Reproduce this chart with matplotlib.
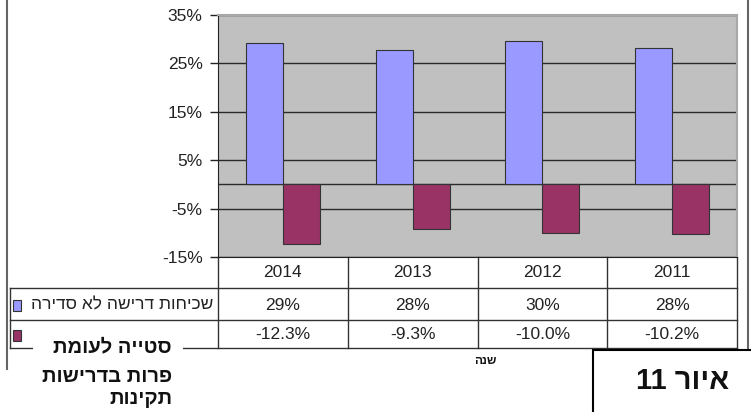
import matplotlib
matplotlib.use("Agg")
import matplotlib.pyplot as plt
import numpy as np
from matplotlib import transforms
from matplotlib.patches import Rectangle
from matplotlib.lines import Line2D

plt.rcParams['font.family'] = ['Liberation Sans', 'DejaVu Sans']

# data
years = ['2014', '2013', '2012', '2011']
irregular = [29.2, 27.8, 29.6, 28.2]      # שכיחות דרישה לא סדירה
deviation = [-12.3, -9.3, -10.0, -10.2]   # סטייה לעומת פרות בדרישות תקינות
yticks = [-15, -5, 5, 15, 25, 35]
name_irregular = 'שכיחות דרישה לא סדירה'
name_deviation = ['סטייה לעומת', 'פרות בדרישות', 'תקינות']
axis_title = 'שנה'
figure_label = 'איור 11'

W, H = 751, 412
TXT = '#222222'


def heb(s):
    # matplotlib has no bidi, so reverse the hebrew for display
    return s[::-1]


def fx(px):
    return px / W


def fy(py):
    return 1 - py / H


def fig_line(x0, y0, x1, y1, color='#333333', lw=1.0, z=2):
    fig.add_artist(Line2D([fx(x0), fx(x1)], [fy(y0), fy(y1)],
                          transform=fig.transFigure, color=color, lw=lw, zorder=z))


def fig_rect(x0, y0, x1, y1, **kw):
    fig.add_artist(Rectangle((fx(x0), fy(y1)), fx(x1) - fx(x0), fy(y0) - fy(y1),
                             transform=fig.transFigure, **kw))


fig = plt.figure(figsize=(7.51, 4.12), dpi=100)
ax = fig.add_axes([fx(218), fy(257), fx(737) - fx(218), fy(15) - fy(257)])
ax.set_facecolor('#c0c0c0')

x = np.arange(len(years))
w = 0.285
ax.bar(x - w / 2, irregular, w, color='#9999ff', edgecolor='#333333', lw=0.8, zorder=3)
ax.bar(x + w / 2, deviation, w, color='#993366', edgecolor='#333333', lw=0.8, zorder=3)

ax.set_xlim(-0.5, len(years) - 0.5)
ax.set_ylim(-15, 35)
ax.set_yticks(yticks)
ax.set_yticklabels([f'{t}%' for t in yticks])
ax.set_xticks([])
ax.grid(axis='y', color='#2a2a2a', lw=1)
ax.set_axisbelow(True)
ax.axhline(0, color='#2a2a2a', lw=1, zorder=2)
ax.tick_params(axis='y', length=6, width=1, color='#222222', labelsize=12.5,
               labelcolor=TXT, pad=5)
for side in ['left', 'bottom']:
    ax.spines[side].set_color('#222222')
for side in ['top', 'right']:
    ax.spines[side].set_color('#a8a8a8')
    ax.spines[side].set_linewidth(1.5)

# data table under the plot
trans = transforms.blended_transform_factory(ax.transData, ax.transAxes)


def ay(py):
    return (257 - py) / 242


row_y = [ay(272.5), ay(305), ay(335)]
for i, yr in enumerate(years):
    ax.text(i, row_y[0], yr, transform=trans, ha='center', va='center',
            fontsize=12.5, color=TXT)
    ax.text(i, row_y[1], f'{irregular[i]:.0f}%', transform=trans, ha='center',
            va='center', fontsize=12.5, color=TXT)
    ax.text(i, row_y[2], f'{deviation[i]:.1f}%', transform=trans, ha='center',
            va='center', fontsize=12.5, color=TXT)

for b in np.arange(-0.5, len(years)):
    ax.plot([b, b], [0, ay(348)], transform=trans, clip_on=False,
            color='#333333', lw=1)
for py in [288, 320, 348]:
    fig_line(10, py, 737, py)
fig_line(10, 288, 10, 348)

# outer frame
fig_line(7, 0, 7, 369, color='#666666', lw=1.5)
fig_line(748, 0, 748, 350, color='#666666', lw=1.5)

# row labels with legend keys
fig_rect(13, 300, 21, 311, facecolor='#9999ff', edgecolor='#333333', lw=0.8)
fig_rect(13, 330, 21, 341, facecolor='#993366', edgecolor='#333333', lw=0.8)
fig.text(fx(213), fy(305), heb(name_irregular), ha='right', va='center',
         fontsize=12.5, color=TXT)

# overlaid label for the second series
fig_rect(33, 322, 183, 412, facecolor='white', edgecolor='none', zorder=10)
for py, line in zip([347, 376, 398], name_deviation):
    fig.text(fx(172), fy(py), heb(line), ha='right', va='center', fontsize=14.5,
             fontweight='bold', color='#111111', zorder=11)

fig.text(fx(485), fy(361), heb(axis_title), ha='center', va='center',
         fontsize=8.5, fontweight='bold', color='#111111')

# figure number box
fig_rect(593, 350, 800, 450, facecolor='white', edgecolor='black', lw=1.5, zorder=10)
fig.text(fx(683), fy(381), heb(figure_label), ha='center', va='center',
         fontsize=21, fontweight='bold', color='#111111', zorder=11)

plt.savefig('out.png', dpi=100)
